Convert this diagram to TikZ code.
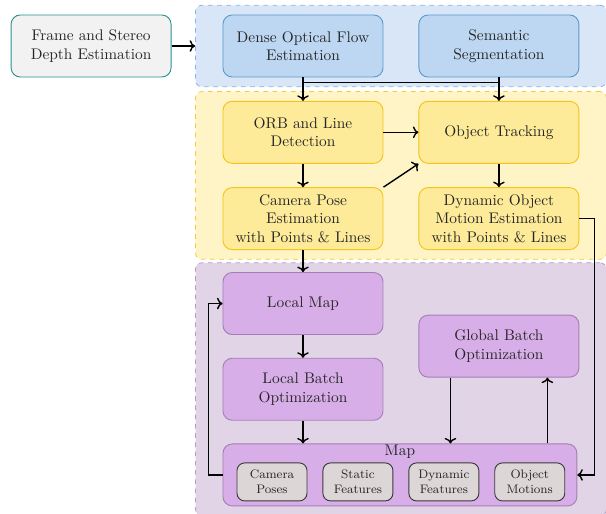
\documentclass[tikz,border=0pt]{standalone}
\usepackage{tikz}
\usetikzlibrary{arrows.meta,positioning,fit,backgrounds,calc}
\definecolor{inputfill}{HTML}{F2F2F2}
\definecolor{inputedge}{HTML}{2A9090}
\definecolor{bluefill}{HTML}{BDD7F2}
\definecolor{blueedge}{HTML}{5A9BC9}
\definecolor{bluegrp}{HTML}{D8E6F8}
\definecolor{bluegrpedge}{HTML}{88B4E2}
\definecolor{yellowfill}{HTML}{FEEB99}
\definecolor{yellowedge}{HTML}{F5C31A}
\definecolor{yellowgrp}{HTML}{FFF4C6}
\definecolor{yellowgrpedge}{HTML}{F7C938}
\definecolor{purplefill}{HTML}{D7AEE8}
\definecolor{purpleedge}{HTML}{A47FB5}
\definecolor{purplegrp}{HTML}{E1D4E6}
\definecolor{purplegrpedge}{HTML}{B59CC6}
\definecolor{itemfill}{HTML}{DCD6D6}
\definecolor{itemedge}{HTML}{3A3A3A}
\tikzset{
  block/.style   ={draw,rounded corners=6pt,align=center,inner sep=1pt,
                   minimum width=104pt,minimum height=40.3pt,line width=0.6pt,text=black!85},
  inbox/.style   ={block,fill=inputfill,draw=inputedge},
  flowbox/.style ={block,fill=bluefill,draw=blueedge},
  trackbox/.style={block,fill=yellowfill,draw=yellowedge},
  mapbox/.style  ={block,fill=purplefill,draw=purpleedge},
  itembox/.style ={draw=itemedge,fill=itemfill,rounded corners=5pt,align=center,
                   font=\footnotesize,minimum width=45.5pt,minimum height=24.7pt,
                   inner sep=1pt,line width=0.6pt,text=black!85},
  grp/.style     ={dashed,rounded corners=4pt,inner xsep=17.55pt,inner ysep=6pt,line width=0.5pt},
  flow/.style    ={-{To[length=1.8pt 2]},line width=0.9pt},
  wire/.style    ={line width=0.9pt},
}

\begin{document}
\begin{tikzpicture}[node distance=15.2pt and 22.75pt]
\node[flowbox] (dof) at (0,0) {Dense Optical Flow\\Estimation};
\useasboundingbox (-196.95pt,29.9pt) rectangle (196.95pt,-304.2pt);
\node[inbox,left=33.15pt of dof] (frame) {Frame and Stereo\\Depth Estimation};
\node[flowbox,right=of dof] (seg) {Semantic\\Segmentation};
% tracking stage
\node[trackbox,below=of dof] (orb) {ORB and Line\\Detection};
\node[trackbox,below=of seg] (trk) {Object Tracking};
\node[trackbox,below=of orb] (cam) {Camera Pose\\Estimation\\with Points \& Lines};
\node[trackbox,below=of trk] (dyn) {Dynamic Object\\Motion Estimation\\with Points \& Lines};
% mapping stage
\node[mapbox,below=14.3pt of cam] (lmap) {Local Map};
\node[mapbox,below=14.8pt of lmap] (lbo) {Local Batch\\Optimization};
\node[mapbox,below=42pt of dyn] (gbo) {Global Batch\\Optimization};
\node[mapbox,minimum width=230pt,below=14.8pt of lbo.south west,anchor=north west] (map) {};
\node[below=0pt of map.north,inner sep=1pt,text=black!85] (maplbl) {Map};
\node[itembox,anchor=south west] (cposes) at ([xshift=9.1pt,yshift=3.25pt]map.south west) {Camera\\Poses};
\node[itembox,right=9.75pt of cposes] (sfeat) {Static\\Features};
\node[itembox,right=9.75pt of sfeat] (dfeat) {Dynamic\\Features};
\node[itembox,right=9.75pt of dfeat] (omot) {Object\\Motions};
% groups
\begin{scope}[on background layer]
\node[grp,fit=(dof)(seg),fill=bluegrp,draw=bluegrpedge] (gblue) {};
\node[grp,fit=(orb)(dyn),fill=yellowgrp,draw=yellowgrpedge] (gyellow) {};
\node[grp,fit=(lmap)(gbo)(map),fill=purplegrp,draw=purplegrpedge] (gpurple) {};
\end{scope}
% connectors
\draw[flow] (frame) -- (frame -| gblue.west);
\coordinate (branch) at ([yshift=-3.25pt]dof.south);
\draw[flow] (dof) -- (orb);
\draw[wire] (branch) -- (branch -| seg);
\draw[flow] (seg) -- (trk);
\draw[flow] (orb) -- (trk);
\draw[flow] (orb) -- (cam);
\draw[flow] (cam.north east) -- (trk.south west);
\draw[flow] (trk) -- (dyn);
\draw[flow] (dyn.east) -- ++(9.75pt,0) |- (map.east);
\draw[flow] (cam) -- (lmap);
\draw[flow] (lmap) -- (lbo);
\draw[flow] (lbo) -- (lbo |- map.north);
\draw[flow] (map.west) -- ++(-9.1pt,0) |- (lmap.west);
\coordinate (gdown) at ([xshift=20.8pt]gbo.south west);
\coordinate (gup) at ([xshift=-20.8pt]gbo.south east);
\draw[flow] (gdown) -- (gdown |- map.north);
\draw[flow] (gup |- map.north) -- (gup);
\end{tikzpicture}
\end{document}
